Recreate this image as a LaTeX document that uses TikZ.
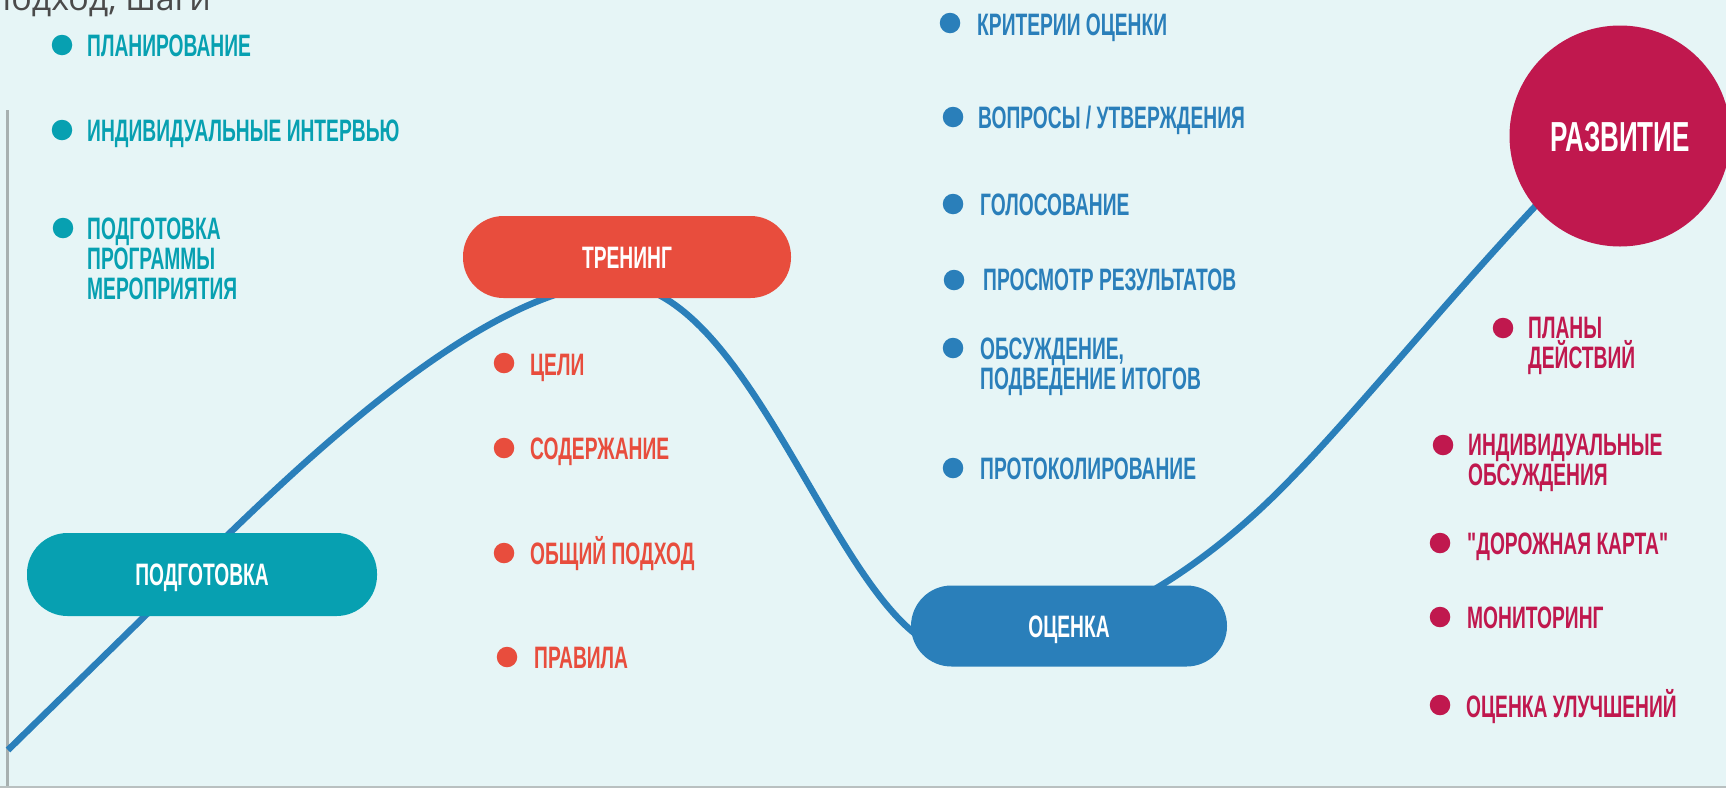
\documentclass[tikz,border=0pt]{standalone}
\usepackage{fontspec}
\setmainfont{Liberation Sans}
\newfontfamily\bb{Liberation Sans}[FakeStretch=0.62]
\newfontfamily\osans{Open Sans}
\definecolor{bgc}{HTML}{E6F5F6}
\definecolor{cT}{HTML}{07A0B1}
\definecolor{cR}{HTML}{E84D3D}
\definecolor{cB}{HTML}{2A7FBA}
\definecolor{cM}{HTML}{C0184E}
\definecolor{cG}{HTML}{A7B0B0}
\definecolor{cTx}{HTML}{4A4A4A}
% #6 = baseline of the LAST line of the text
\newcommand\bitem[7]{%
  \node[dot,fill=#2] (#1d) at (#3,#4) {};
  \node[itemtxt,text=#2] (#1) at (#5,#6) {#7};}
\begin{document}
\begin{tikzpicture}[x=1pt,y=-1pt,
  dot/.style={circle,inner sep=0pt,minimum size=20.5pt},
  itemtxt/.style={anchor=base west,inner sep=0pt,align=left,
    font=\bb\bfseries\fontsize{31}{30}\selectfont},
  pill/.style={rectangle,rounded corners=40.5pt,inner sep=0pt,
    text=white,text height=22pt,text depth=0pt,
    font=\bb\bfseries\fontsize{31}{30}\selectfont},
  curve/.style={cB,line width=6.5pt}]
\useasboundingbox (0,0) rectangle (1726,788);
\clip (0,0) rectangle (1726,788);
\fill[bgc] (0,0) rectangle (1726,788);
% frame lines
\coordinate (lt) at (7.5,110);
\coordinate (lb) at (7.5,788);
\coordinate (bl) at (0,786.8);
\coordinate (br) at (1726,786.8);
\draw[cG,line width=3pt] (lt) -- (lb);
\draw[cG!80,line width=2pt] (bl) -- (br);
% heading (cut off at the top, as in the source)
\node[anchor=base west,inner sep=0pt,text=cTx,font=\osans\fontsize{34}{34}\selectfont] (head) at (-10,10) {подход, шаги};
% curve
\coordinate (c0) at (8,750);
\coordinate (c1) at (200,562);
\coordinate (c2) at (612,283);
\coordinate (c3) at (960,652);
\coordinate (c4) at (1280,490);
\coordinate (c5) at (1580,160);
\draw[curve] (c0) -- (c1)
  .. controls (300,464) and (480,290) .. (c2)
  .. controls (759,280) and (845,652) .. (c3)
  .. controls (1050,652) and (1170,600) .. (c4)
  .. controls (1360,410) and (1470,270) .. (c5);
% stage nodes
\node[pill,fill=cT,minimum width=350pt,minimum height=83pt] (podg) at (202,574.5) {ПОДГОТОВКА};
\node[pill,fill=cR,minimum width=328pt,minimum height=82pt] (tren) at (627,257) {ТРЕНИНГ};
\node[pill,fill=cB,minimum width=316pt,minimum height=81pt] (ocen) at (1069,626) {ОЦЕНКА};
\node[circle,fill=cM,minimum size=221pt,inner sep=0pt,text=white,text height=30pt,text depth=0pt,
  font=\bb\bfseries\fontsize{42}{42}\selectfont] (razv) at (1620,136) {РАЗВИТИЕ};
% teal items
\bitem{t1}{cT}{62}{45}{87}{56}{ПЛАНИРОВАНИЕ}
\bitem{t2}{cT}{62}{130}{87}{141}{ИНДИВИДУАЛЬНЫЕ ИНТЕРВЬЮ}
\bitem{t3}{cT}{63}{228}{87}{299}{ПОДГОТОВКА\\ПРОГРАММЫ\\МЕРОПРИЯТИЯ}
% red items
\bitem{r1}{cR}{504}{363}{530}{375}{ЦЕЛИ}
\bitem{r2}{cR}{504}{448}{530}{459}{СОДЕРЖАНИЕ}
\bitem{r3}{cR}{504}{553}{530}{564}{ОБЩИЙ ПОДХОД}
\bitem{r4}{cR}{507}{657}{534}{668}{ПРАВИЛА}
% blue items
\bitem{b1}{cB}{950}{23}{977}{35}{КРИТЕРИИ ОЦЕНКИ}
\bitem{b2}{cB}{953}{117}{978}{128}{ВОПРОСЫ / УТВЕРЖДЕНИЯ}
\bitem{b3}{cB}{953}{204}{980}{215}{ГОЛОСОВАНИЕ}
\bitem{b4}{cB}{954}{280}{983}{290}{ПРОСМОТР РЕЗУЛЬТАТОВ}
\bitem{b5}{cB}{953}{348}{980}{389}{ОБСУЖДЕНИЕ,\\ПОДВЕДЕНИЕ ИТОГОВ}
\bitem{b6}{cB}{953}{468}{980}{479}{ПРОТОКОЛИРОВАНИЕ}
% magenta items
\bitem{m1}{cM}{1503}{328}{1528}{368}{ПЛАНЫ\\ДЕЙСТВИЙ}
\bitem{m2}{cM}{1443}{445}{1468}{485}{ИНДИВИДУАЛЬНЫЕ\\ОБСУЖДЕНИЯ}
\bitem{m3}{cM}{1440}{543}{1467}{554}{"ДОРОЖНАЯ КАРТА"}
\bitem{m4}{cM}{1440}{617}{1467}{628}{МОНИТОРИНГ}
\bitem{m5}{cM}{1440}{705}{1466}{717}{ОЦЕНКА УЛУЧШЕНИЙ}
\end{tikzpicture}
\end{document}
